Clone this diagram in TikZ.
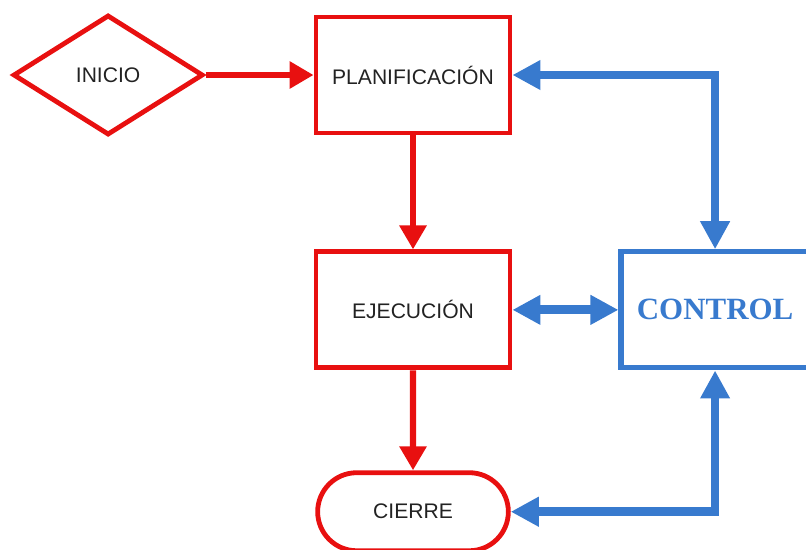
\documentclass[tikz,border=0pt]{standalone}
\usepackage{fontspec}
\setmainfont{Liberation Sans}
\newfontfamily\ctrlfont{Liberation Serif}
\usetikzlibrary{positioning, shapes.geometric, shapes.misc, arrows.meta}
\definecolor{rojo}{RGB}{232,16,16}
\definecolor{azul}{RGB}{56,122,206}
\definecolor{texto}{RGB}{34,34,34}

\begin{document}
\begin{tikzpicture}[x=0.025cm, y=-0.025cm,
    nodes={draw, text=texto, font=\fontsize{15}{18}\selectfont},
    fase/.style={draw=rojo, line width=1.2mm, minimum width=4.85cm, minimum height=2.9cm},
    flujo/.style={rojo, line width=1.6mm, -{Triangle[length=6mm,width=6.5mm]}},
    lazo/.style={azul, line width=2.2mm, {Triangle[length=7mm,width=7mm]}-{Triangle[length=7mm,width=7mm]}}]

    \useasboundingbox (0,0) rectangle (806,549);

    \node[fase] (plan) at (413,75) {PLANIFICACIÓN};
    \node[fase, diamond, aspect=1.6, minimum width=4.75cm, minimum height=3cm,
          left=2.7cm of plan] (inicio) {INICIO};
    \node[fase, below=2.85cm of plan] (ejec) {EJECUCIÓN};
    \node[fase, rounded rectangle, minimum width=5cm, minimum height=1.95cm,
          below=2.5cm of ejec] (cierre) {CIERRE};
    \node[draw=azul, line width=1.3mm, minimum width=4.7cm, minimum height=2.9cm,
          text=azul, font=\ctrlfont\bfseries\fontsize{22}{26}\selectfont,
          right=2.65cm of ejec] (control) {CONTROL};

    \draw[flujo] (inicio) -- (plan);
    \draw[flujo] (plan) -- (ejec);
    \draw[flujo] (ejec) -- (cierre);
    \draw[lazo] (plan.east) -| (control.north);
    \draw[lazo] (ejec) -- (control);
    \draw[lazo] (control.south) |- (cierre.east);
\end{tikzpicture}
\end{document}
